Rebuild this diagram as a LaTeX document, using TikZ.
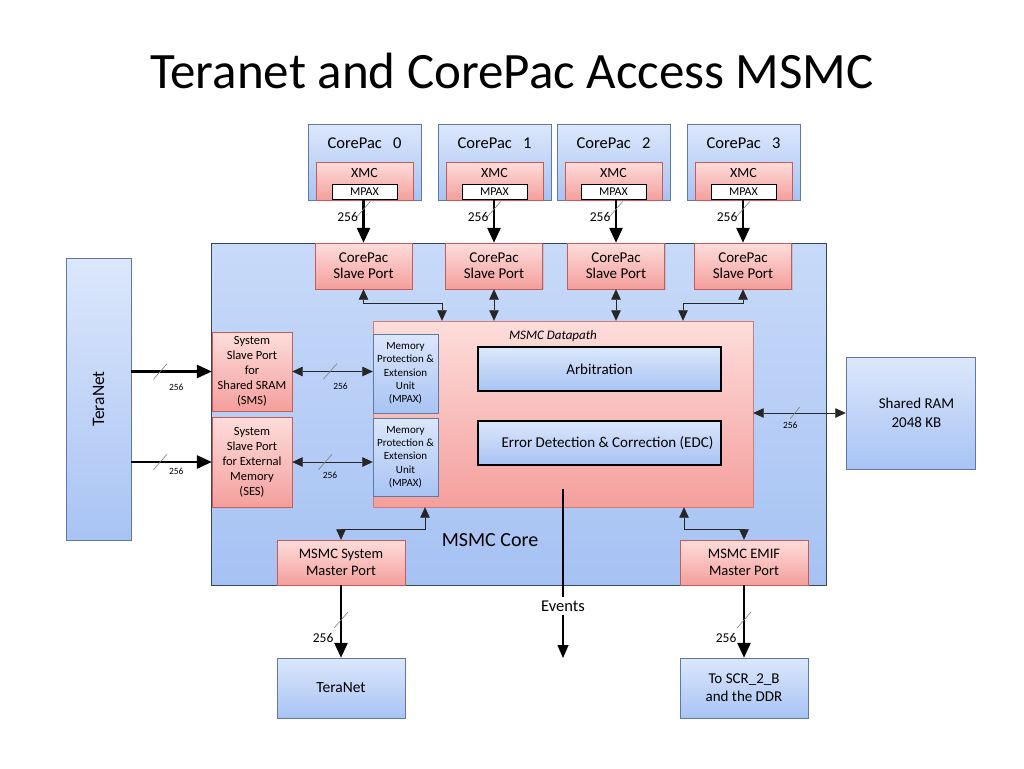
\documentclass[tikz,border=0pt]{standalone}
\usepackage{fontspec}
\setmainfont{Carlito}
\usepackage{tikz}
\usetikzlibrary{arrows.meta}
\usetikzlibrary{shapes.misc}
\usetikzlibrary{shadows}
\usepackage{xcolor}
\definecolor{bluetop}{HTML}{DCE7FB}
\definecolor{bluebot}{HTML}{A8C3F4}
\definecolor{blueedge}{HTML}{5E79A3}
\definecolor{pinktop}{HTML}{FDDDDB}
\definecolor{pinkbot}{HTML}{F49F9C}
\definecolor{pinkedge}{HTML}{C85A57}
\definecolor{coretop}{HTML}{C8DAF9}
\definecolor{corebot}{HTML}{A6C2F3}
\definecolor{coreedge}{HTML}{34475F}

\begin{document}
\begin{tikzpicture}[x = 1pt, y = -1pt,
  bluebox/.style = {draw = blueedge, top color = bluetop, bottom color = bluebot, inner sep = 0pt, align = center,
    drop shadow = {opacity = .25, shadow xshift = 1.2pt, shadow yshift = -1.2pt}},
  pinkbox/.style = {draw = pinkedge, top color = pinktop, bottom color = pinkbot, inner sep = 0pt, align = center,
    drop shadow = {opacity = .25, shadow xshift = 1.2pt, shadow yshift = -1.2pt}},
  innerbox/.style = {bluebox, draw = black, line width = 1.2pt},
  bus/.style = {line width = 2.6pt, -{Triangle[length = 15pt, width = 13pt]}},
  link/.style = {draw = black!85, line width = .7pt, {Triangle[length = 10.5pt, width = 9.5pt]}-{Triangle[length = 10.5pt, width = 9.5pt]}},
  busmark/.style = {strike out, draw = gray, line width = .6pt, minimum width = 13pt, minimum height = 15pt, inner sep = 0pt},
  buslab/.style = {font = \fontsize{13.5}{16}\selectfont},
  tinylab/.style = {font = \fontsize{9.5}{11}\selectfont}]
  \fill[white, use as bounding box] (0, 0) rectangle (1024, 768);
  \node[anchor = base, font = \fontsize{51}{60}\selectfont] (title) at (512, 88) {Teranet and CorePac Access MSMC};
  % MSMC core
  \node[bluebox, draw = coreedge, top color = coretop, bottom color = corebot, minimum width = 615, minimum height = 342] (core) at (518.5, 414) {};
  \node[font = \fontsize{20}{23}\selectfont] (corelab) at (490, 540) {MSMC Core};
  % corepacs and their slave ports
  \foreach \i/\cx/\sx in {0/364.5/363.5, 1/494.5/494, 2/613.5/616, 3/743.5/743}{
    \node[bluebox, minimum width = 113, minimum height = 76] (cp\i) at (\cx, 162) {};
    \node[anchor = base, font = \fontsize{16.5}{19}\selectfont] (cplab\i) at (\cx, 148) {CorePac\ \ \ \i};
    \node[pinkbox, minimum width = 97, minimum height = 38] (xmc\i) at (\cx, 181) {};
    \node[anchor = base, font = \fontsize{14}{17}\selectfont] (xmclab\i) at (\cx, 177) {XMC};
    \node[draw = black, fill = white, minimum width = 65, minimum height = 15, inner sep = 0pt, font = \fontsize{12}{14}\selectfont] (mpax\i) at (\cx, 191.5) {MPAX};
    \node[pinkbox, minimum width = 97, minimum height = 46, font = \fontsize{15}{16}\selectfont] (slave\i) at (\sx, 266) {CorePac\\Slave Port};
    \draw[bus] (slave\i.north |- mpax\i.south) -- node[busmark, pos = .23]{} node[buslab, pos = .41, left = 1pt]{256} (slave\i.north);
  }
  % datapath
  \node[pinkbox, draw = pinkedge!80, minimum width = 380, minimum height = 186] (dp) at (563, 414) {};
  \node[font = \itshape\fontsize{13}{15}\selectfont] (dplab) at (553, 336) {MSMC Datapath};
  \node[innerbox, minimum width = 243, minimum height = 44, font = \fontsize{15}{18}\selectfont] (arb) at (599.5, 369) {Arbitration};
  \node[innerbox, minimum width = 243, minimum height = 44, font = \fontsize{15}{18}\selectfont] (edc) at (599.5, 443) {\hspace{16pt}Error Detection \& Correction (EDC)};
  \node[bluebox, minimum width = 65, minimum height = 79, font = \fontsize{11}{13.3}\selectfont] (mpu1) at (405.5, 373.5) {Memory\\Protection \&\\Extension\\Unit\\(MPAX)};
  \node[bluebox, minimum width = 65, minimum height = 78, font = \fontsize{11}{13.3}\selectfont] (mpu2) at (405.5, 457) {Memory\\Protection \&\\Extension\\Unit\\(MPAX)};
  % system slave ports
  \node[pinkbox, minimum width = 80, minimum height = 79, font = \fontsize{12.5}{15}\selectfont] (sms) at (252, 371.5) {System\\Slave Port\\for\\Shared SRAM\\(SMS)};
  \node[pinkbox, minimum width = 80, minimum height = 90, font = \fontsize{12.5}{15}\selectfont] (ses) at (252, 462) {System\\Slave Port\\for External\\Memory\\(SES)};
  \node[bluebox, minimum width = 65, minimum height = 282] (teraL) at (98.5, 399) {};
  \node[rotate = 90, font = \fontsize{17.5}{20}\selectfont] (teraLlab) at (teraL.center) {TeraNet};
  \node[bluebox, minimum width = 129, minimum height = 112, font = \fontsize{15}{19}\selectfont] (ram) at (910.5, 413) {\hspace{12pt}Shared RAM\\\hspace{12pt}2048 KB};
  % master ports
  \node[pinkbox, minimum width = 128, minimum height = 45, font = \fontsize{14.5}{17}\selectfont] (sysm) at (341, 562.5) {MSMC System\\Master Port};
  \node[pinkbox, minimum width = 128, minimum height = 45, font = \fontsize{14.5}{17}\selectfont] (emif) at (744, 562.5) {MSMC EMIF\\Master Port};
  \node[bluebox, minimum width = 128, minimum height = 60, font = \fontsize{15.5}{18}\selectfont] (teraB) at (341, 688) {TeraNet};
  \node[bluebox, minimum width = 128, minimum height = 60, font = \fontsize{15}{18}\selectfont] (ddr) at (744, 688) {To SCR\_2\_B\\and the DDR};
  \node[font = \fontsize{16.5}{19}\selectfont] (events) at (563, 606) {Events};
  \coordinate (evend) at (563, 658);
  % connections
  \draw[link] (slave0.south) -- ++(0, 14) -| ([xshift = -121]dp.north);
  \draw[link] (slave1.south) -- (slave1.south |- dp.north);
  \draw[link] (slave2.south) -- (slave2.south |- dp.north);
  \draw[link] (slave3.south) -- ++(0, 14) -| ([xshift = 120]dp.north);
  \draw[bus] (sms.west -| teraL.east) -- node[busmark, pos = .36]{} node[tinylab, pos = .56, below = 8pt]{256} (sms.west);
  \draw[bus] (ses.west -| teraL.east) -- node[busmark, pos = .36]{} node[tinylab, pos = .56, below = 1pt]{256} (ses.west);
  \draw[link] (sms.east) -- node[busmark, pos = .47]{} node[tinylab, pos = .6, below = 8pt]{256} (sms.east -| mpu1.west);
  \draw[link] (ses.east) -- node[busmark, pos = .41]{} node[tinylab, pos = .47, below = 6pt]{256} (ses.east -| mpu2.west);
  \draw[link] (ram.west -| dp.east) -- node[busmark, minimum width = 9pt, minimum height = 11pt, pos = .45]{} node[tinylab, pos = .4, below = 5pt]{256} (ram.west);
  \draw[link] ([xshift = -138]dp.south) -- ++(0, 22) -| (sysm.north);
  \draw[link] ([xshift = 121]dp.south) -- ++(0, 22) -| (emif.north);
  \draw[bus] (sysm.south) -- node[busmark, pos = .48]{} node[buslab, pos = .73, left = 3pt]{256} (teraB.north);
  \draw[bus] (emif.south) -- node[busmark, pos = .48]{} node[buslab, pos = .73, left = 3pt]{256} (ddr.north);
  \draw[line width = 1.4pt] ([yshift = 18]dp.south) -- (events);
  \draw[line width = 1.4pt, -{Triangle[length = 13pt, width = 11pt]}] (events) -- (evend);
\end{tikzpicture}
\end{document}
